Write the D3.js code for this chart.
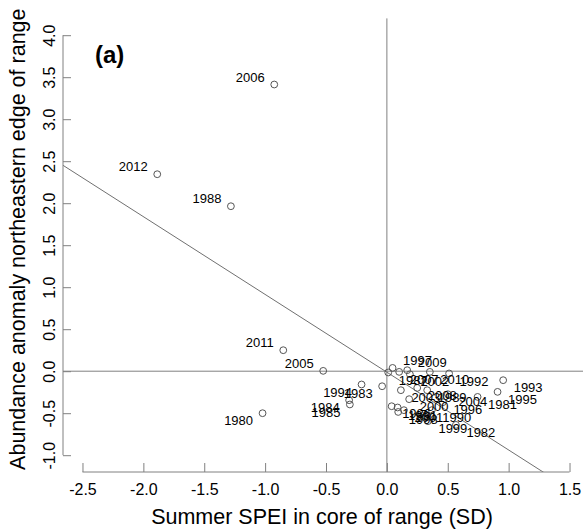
<!DOCTYPE html>
<html>
<head>
<meta charset="utf-8">
<script src="https://d3js.org/d3.v7.min.js"></script>
<style>
body { margin: 0; background: #fff; }
svg text { font-family: "Liberation Sans", Arial, sans-serif; fill: #000; }
.axis path, .axis line { stroke: #808080; }
</style>
</head>
<body>
<svg id="chart" width="583" height="531"></svg>
<script>
// values
var years = [1980,1981,1982,1983,1984,1985,1986,1987,1988,1989,1990,1991,1992,1993,1994,1995,1996,
             1997,1998,1999,2000,2001,2002,2003,2004,2005,2006,2007,2008,2009,2010,2011,2012];
var spei = [-1.021,0.745,0.567,-0.039,-0.310,-0.304,0.039,0.011,-1.281,0.331,0.369,0.088,0.511,0.955,-0.208,0.909,0.460,
            0.047,0.093,0.337,0.183,0.140,0.189,0.115,0.501,-0.523,-0.925,0.101,0.249,0.167,0.353,-0.851,-1.886];
var abundance = [-0.50,-0.306,-0.639,-0.179,-0.345,-0.396,-0.417,-0.015,1.964,-0.226,-0.464,-0.432,-0.027,-0.107,-0.158,-0.246,-0.369,
                 0.039,-0.485,-0.595,-0.333,-0.464,-0.036,-0.226,-0.274,0.004,3.413,-0.008,-0.199,0.012,-0.008,0.25,2.345];
var xTicks = [-2.5,-2.0,-1.5,-1.0,-0.5,0.0,0.5,1.0,1.5];
var yTicks = [-1.0,-0.5,0.0,0.5,1.0,1.5,2.0,2.5,3.0,3.5,4.0];
var fitIntercept = -0.012;
var fitSlope = -0.926;

// where each year label sits relative to its point (default: lower right)
var labelSide = {1988:"ul",2005:"ul",2006:"ul",2011:"ul",2012:"ul",
                 1980:"ll",1983:"ll",1984:"ll",1985:"ll",1994:"ll",
                 1997:"ur",2009:"ur"};

var pts = years.map(function(d,i){ return {year:d, x:spei[i], y:abundance[i]}; });

var svg = d3.select("#chart");
var pLeft = 63, pRight = 589, pTop = 18.4, pBottom = 472;

var x = d3.scaleLinear().domain([-2.66,1.66]).range([pLeft,pRight]);
var y = d3.scaleLinear().domain([-1.2,4.2]).range([pBottom,pTop]);

svg.append("clipPath").attr("id","plotclip")
  .append("rect").attr("x",pLeft).attr("y",pTop).attr("width",pRight-pLeft).attr("height",pBottom-pTop);

// reference lines through zero
svg.append("line")
    .attr("x1",pLeft).attr("x2",pRight).attr("y1",y(0)).attr("y2",y(0))
    .attr("stroke","#808080");
svg.append("line")
    .attr("x1",x(0)).attr("x2",x(0)).attr("y1",pTop).attr("y2",pBottom)
    .attr("stroke","#808080");

// fitted line
var x0 = x.domain()[0], x1 = x.domain()[1];
svg.append("line")
    .attr("clip-path","url(#plotclip)")
    .attr("x1",x(x0)).attr("y1",y(fitIntercept+fitSlope*x0))
    .attr("x2",x(x1)).attr("y2",y(fitIntercept+fitSlope*x1))
    .attr("stroke","#707070");

// axes, R style with ticks pointing inwards
var xa = svg.append("g").attr("class","axis")
    .attr("transform","translate(0,"+pBottom+")")
    .call(d3.axisBottom(x).tickValues(xTicks).tickSizeInner(-9).tickSizeOuter(0).tickPadding(12)
          .tickFormat(function(d){ return d.toFixed(1); }));
xa.select(".domain").remove();
xa.append("line").attr("x1",x(xTicks[0])).attr("x2",x(xTicks[xTicks.length-1])).attr("stroke","#808080");
xa.selectAll("text").style("font-size","16px").attr("fill","#000");

var ya = svg.append("g").attr("class","axis")
    .attr("transform","translate("+pLeft+",0)")
    .call(d3.axisLeft(y).tickValues(yTicks).tickSizeInner(-8).tickSizeOuter(0)
          .tickFormat(function(d){ return d.toFixed(1); }));
ya.select(".domain").remove();
ya.append("line").attr("y1",y(yTicks[0])).attr("y2",y(yTicks[yTicks.length-1])).attr("stroke","#808080");
ya.selectAll("text")
    .attr("x",0).attr("dy",null).attr("y",-8)
    .attr("transform","rotate(-90)")
    .attr("text-anchor","middle")
    .style("font-size","16px").attr("fill","#000");

// points and year labels
svg.append("g").selectAll("circle")
  .data(pts).enter().append("circle")
    .attr("cx",function(d){ return x(d.x); })
    .attr("cy",function(d){ return y(d.y); })
    .attr("r",3.4)
    .attr("fill","none")
    .attr("stroke","#555");

svg.append("g").selectAll("text")
  .data(pts).enter().append("text")
    .style("font-size","13px")
    .attr("text-anchor",function(d){ var s = labelSide[d.year] || "lr"; return s[1]=="l" ? "end" : "start"; })
    .attr("x",function(d){ var s = labelSide[d.year] || "lr"; return x(d.x) + (s[1]=="l" ? -9.5 : 10.5); })
    .attr("y",function(d){ var s = labelSide[d.year] || "lr"; return y(d.y) + (s[0]=="u" ? -7.5 : 7.5) + 4.7; })
    .text(function(d){ return d.year; });

// titles
svg.append("text")
    .attr("x",(pLeft+pRight)/2-4).attr("y",524)
    .attr("text-anchor","middle")
    .style("font-size","21.5px")
    .text("Summer SPEI in core of range (SD)");

svg.append("text")
    .attr("transform","translate(25,"+((pTop+pBottom)/2-6)+") rotate(-90)")
    .attr("text-anchor","middle")
    .style("font-size","21.5px")
    .text("Abundance anomaly northeastern edge of range");

svg.append("text")
    .attr("x",95).attr("y",63)
    .style("font-size","24px").style("font-weight","bold")
    .text("(a)");
</script>
</body>
</html>
